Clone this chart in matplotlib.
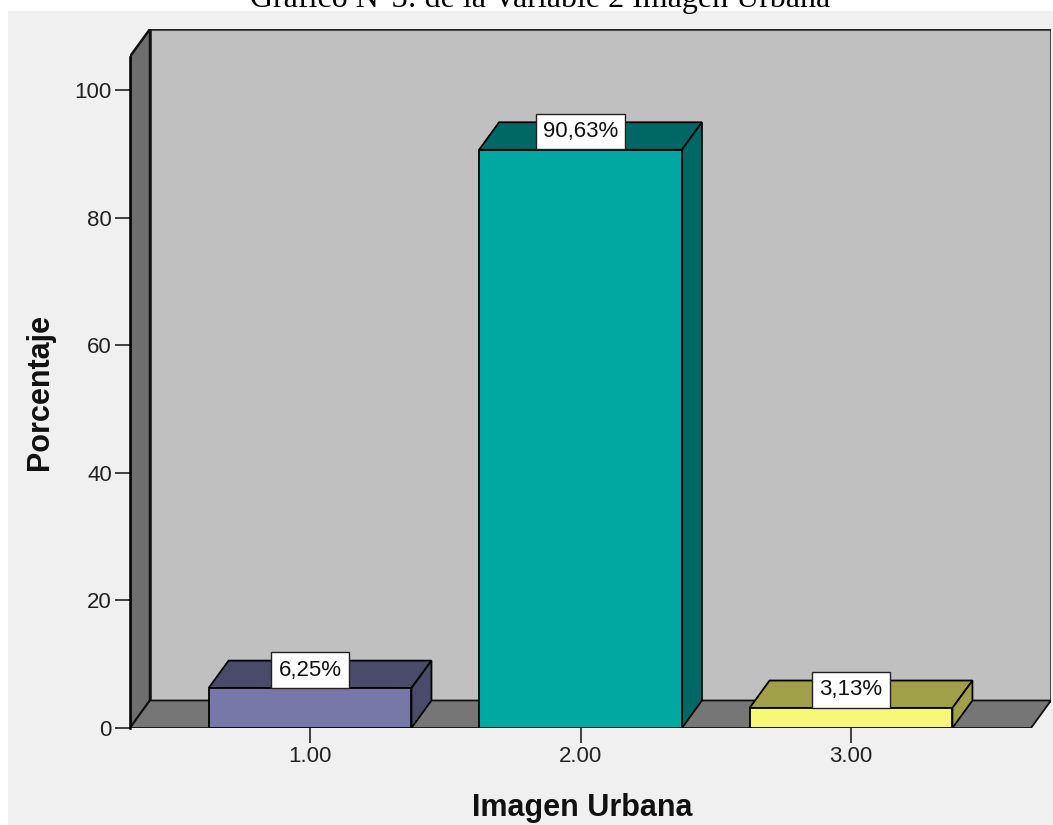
import matplotlib
matplotlib.use('Agg')
import matplotlib.pyplot as plt
from matplotlib.patches import Polygon, Rectangle

# datos
categorias = [1, 2, 3]
etiquetas_x = ['1.00', '2.00', '3.00']
porcentajes = [6.25, 90.63, 3.13]
etiquetas = ['6,25%', '90,63%', '3,13%']
yticks = [0, 20, 40, 60, 80, 100]

colores_frente = ['#7878A8', '#00A8A2', '#F8F878']
colores_lado = ['#4A4A6A', '#006864', '#A0A048']

plt.rcParams['font.family'] = ['Liberation Sans', 'DejaVu Sans']

fig = plt.figure(figsize=(10.53, 8.25), dpi=100)
fig.patch.set_facecolor('white')
# panel gris de fondo (como SPSS)
fig.patches.append(Rectangle((8 / 1053, 0), 1 - 8 / 1053, 1 - 11 / 825,
                             transform=fig.transFigure, fc='#F0F0F0', ec='none', zorder=-5))

ax = fig.add_axes([130 / 1053, 97 / 825, 921 / 1053, 699 / 825])
ax.set_facecolor('none')
ax.set_zorder(2)

x0 = 1 - 180 / 270.5
x1 = x0 + 921 / 270.5
y1 = 699 / 6.38
ax.set_xlim(x0, x1)
ax.set_ylim(0, y1)

DX = 20 / 270.5   # profundidad en x
DY = 27.5 / 6.38  # profundidad en y
w = 0.75
lw = 1.3

# pared trasera, pared izquierda y piso
ax.add_patch(Rectangle((x0 + DX, DY), x1 - x0 - DX, y1 - DY, fc='#C0C0C0', ec='#222222', lw=lw * 1.4, zorder=1))
ax.add_patch(Polygon([(x0, 0), (x0 + DX, DY), (x0 + DX, y1), (x0, y1 - DY)],
                     fc='#6E6E6E', ec='#111111', lw=lw * 1.4, zorder=2))
ax.add_patch(Polygon([(x0, 0), (x0 + DX, DY), (x1, DY), (x1 - DX, 0)],
                     fc='#767676', ec='#111111', lw=lw, zorder=2))

# barras 3d
for c, v, cf, cl in zip(categorias, porcentajes, colores_frente, colores_lado):
    l = c - w / 2
    r = c + w / 2
    ax.add_patch(Polygon([(l, v), (l + DX, v + DY), (r + DX, v + DY), (r, v)],
                         fc=cl, ec='black', lw=lw, zorder=3))
    ax.add_patch(Polygon([(r, 0), (r + DX, DY), (r + DX, v + DY), (r, v)],
                         fc=cl, ec='black', lw=lw, zorder=3))
    ax.add_patch(Rectangle((l, 0), w, v, fc=cf, ec='black', lw=lw, zorder=4))

# etiquetas de porcentaje
for c, v, t in zip(categorias, porcentajes, etiquetas):
    ax.annotate(t, (c, v), xytext=(0, 13), textcoords='offset points',
                ha='center', va='center', fontsize=16, color='#111111', zorder=6,
                bbox=dict(boxstyle='square,pad=0.32', fc='white', ec='#222222', lw=1))

for s in ax.spines.values():
    s.set_visible(False)
ax.plot([x0, x0], [0, y1 - DY], color='black', lw=lw * 1.4, zorder=5, clip_on=False)

ax.set_yticks(yticks)
ax.set_xticks(categorias)
ax.set_xticklabels(etiquetas_x)
ax.tick_params(axis='both', length=11, width=1.2, labelsize=16, labelcolor='#222222', color='#222222', pad=2)

fig.text(40 / 1053, 1 - 392 / 825, 'Porcentaje', rotation=90, ha='center', va='center',
         fontsize=22, fontweight='bold', color='#111111')
fig.text(582 / 1053, 1 - 816 / 825, 'Imagen Urbana', ha='center', va='baseline',
         fontsize=22, fontweight='bold', color='#111111')
fig.text(540 / 1053, 1 - 7 / 825, 'Gráfico N°3: de la Variable 2 Imagen Urbana', ha='center',
         va='baseline', fontsize=23, family=['Liberation Serif', 'DejaVu Serif'], color='black')

plt.savefig('out.png', dpi=100)
